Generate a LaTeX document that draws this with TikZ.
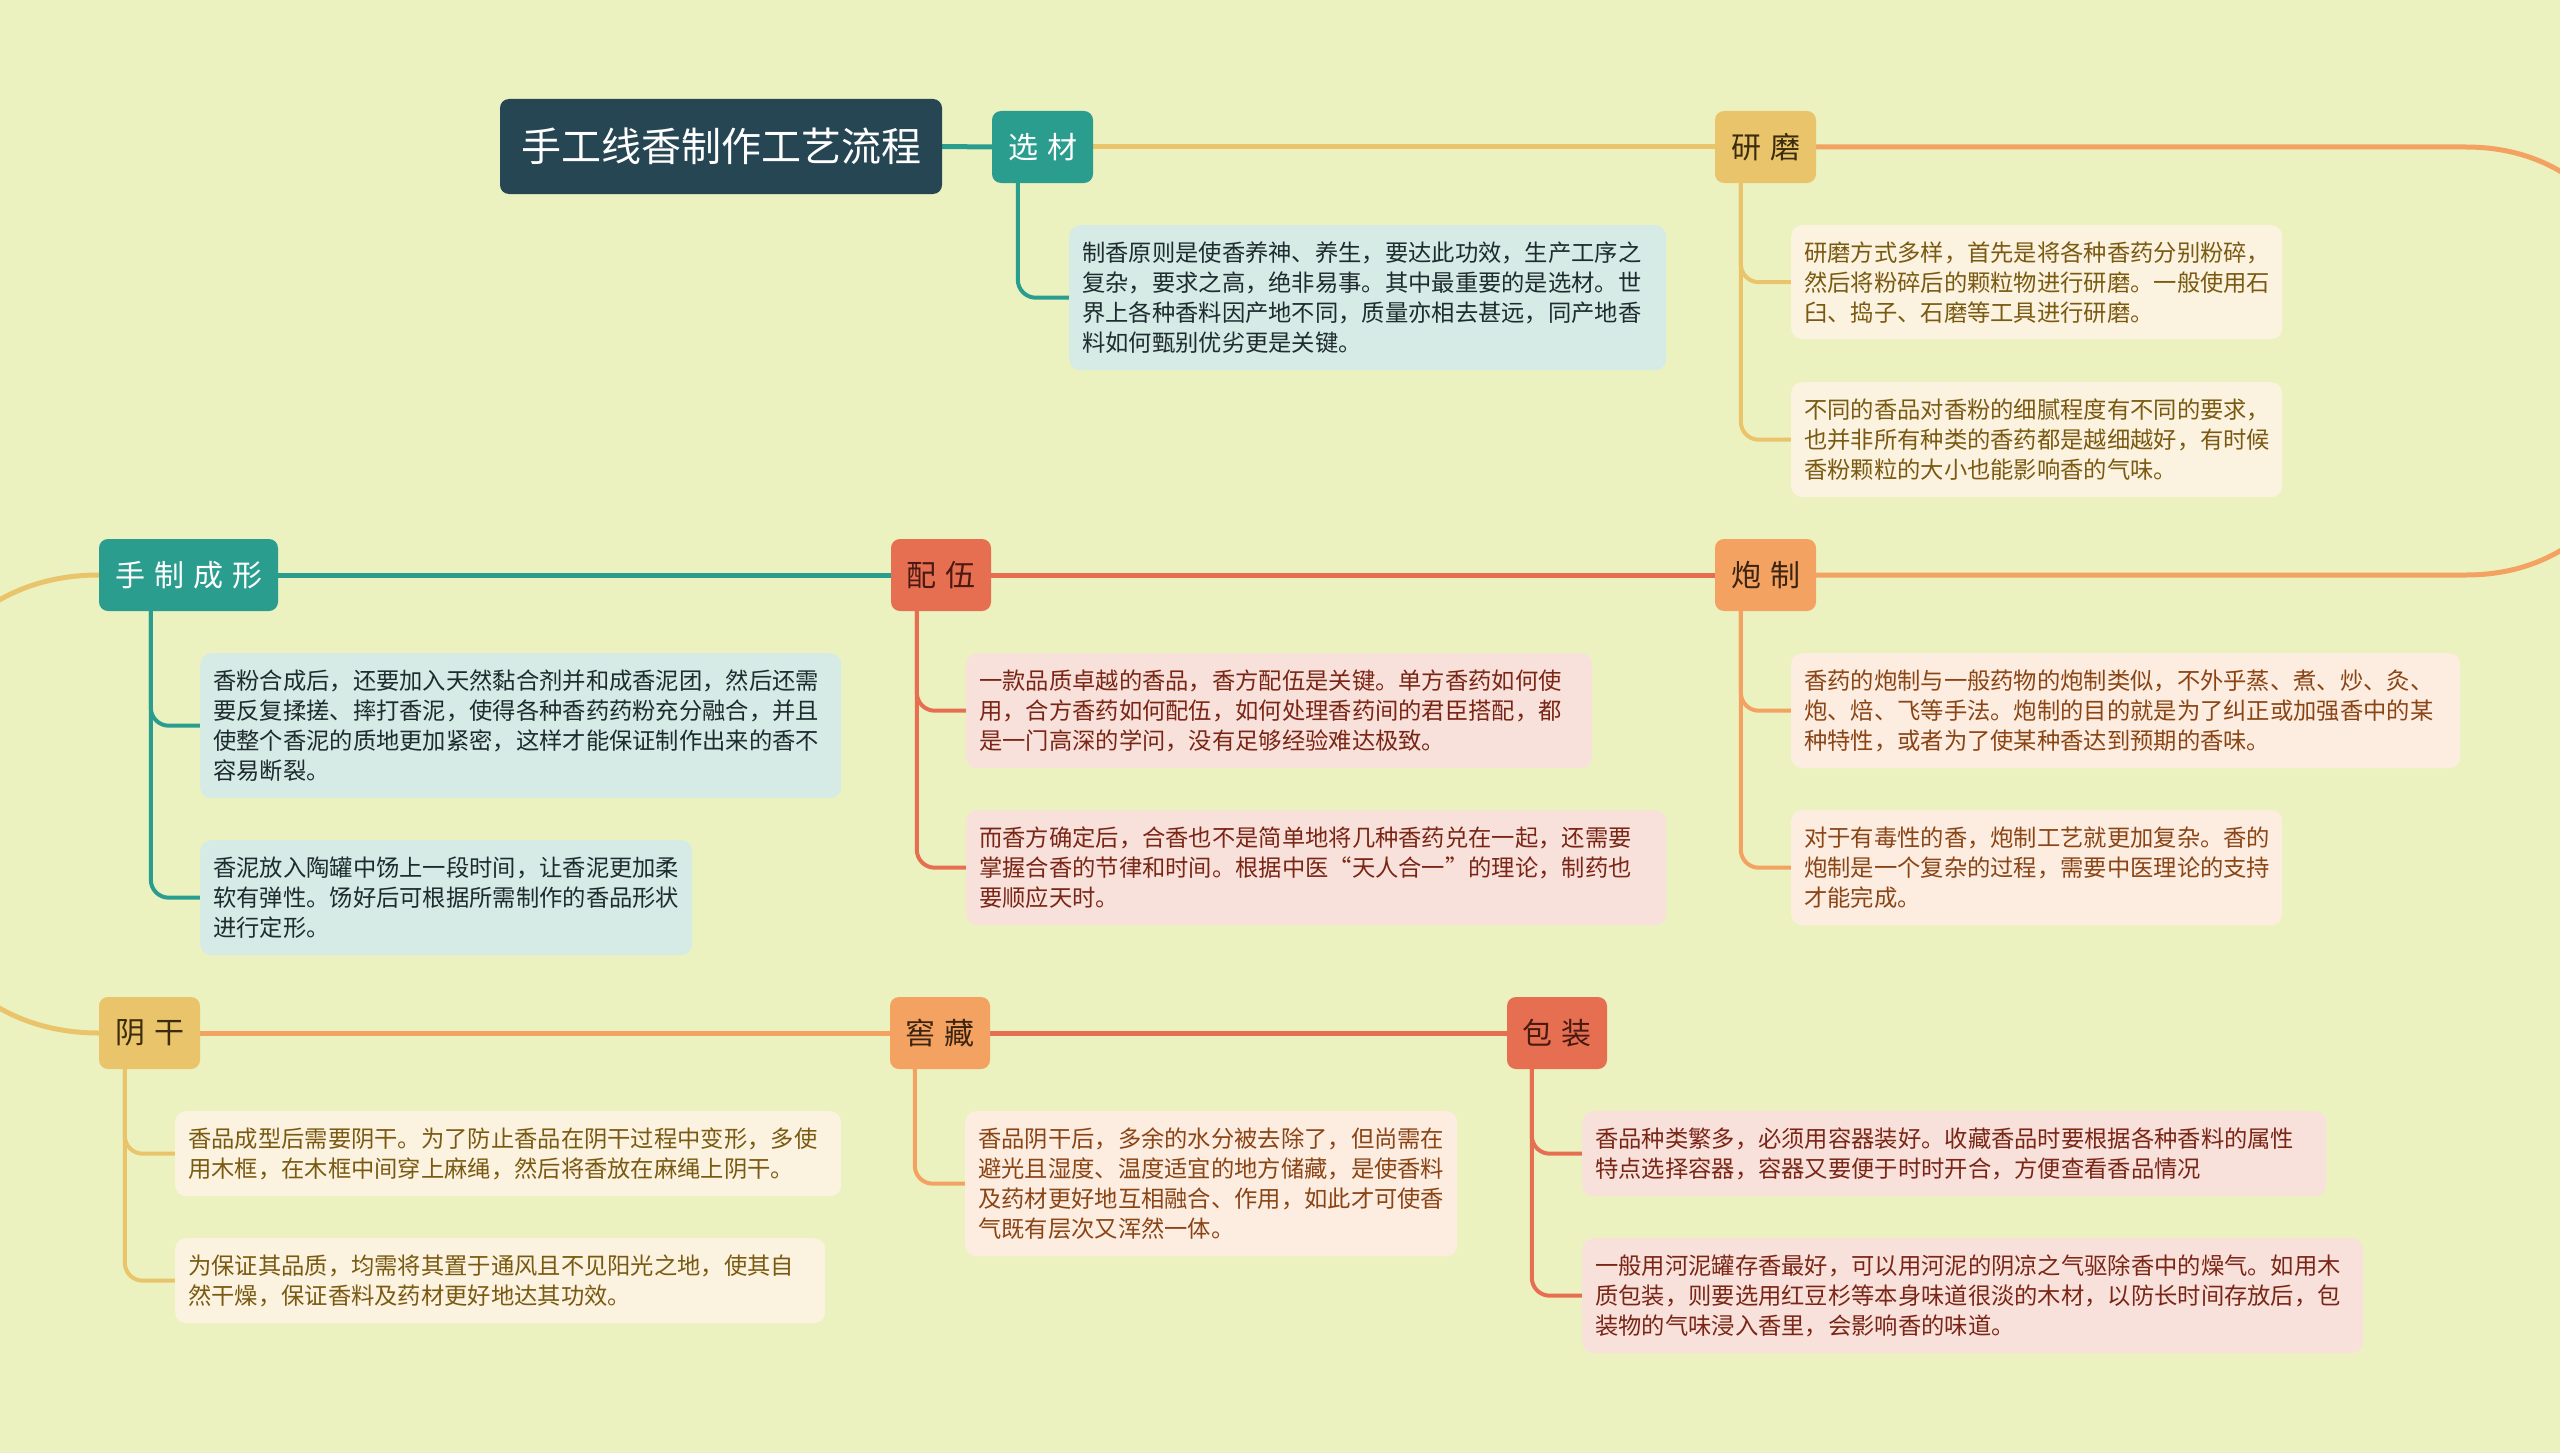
\documentclass[tikz,border=0pt]{standalone}
\usepackage{fontspec}
\setmainfont{Noto Sans CJK SC}
\usetikzlibrary{calc}
\definecolor{bgc}{HTML}{EBF2C0}
\definecolor{cDark}{HTML}{264653}
\definecolor{cTeal}{HTML}{2A9D8F}
\definecolor{cYel}{HTML}{E9C46A}
\definecolor{cOra}{HTML}{F4A261}
\definecolor{cRed}{HTML}{E76F51}
\definecolor{fTeal}{HTML}{D6EBE5}
\definecolor{fYel}{HTML}{FBF3E0}
\definecolor{fOra}{HTML}{FDEDE0}
\definecolor{fRed}{HTML}{F9E1DB}
\definecolor{tTeal}{HTML}{1E2B2F}
\definecolor{tYel}{HTML}{7A5A12}
\definecolor{tOra}{HTML}{8A4516}
\definecolor{tRed}{HTML}{7A2616}
\definecolor{mYel}{HTML}{3A2C0C}
\definecolor{mOra}{HTML}{3D2410}
\definecolor{mRed}{HTML}{4A1A12}
\newcommand\kgap{\hspace{9pt}}
\pgfdeclarelayer{back}
\pgfdeclarelayer{lines}
\pgfsetlayers{back,lines,main}
\begin{document}
\begin{tikzpicture}[x=1pt,y=-1pt,
  mainnode/.style={rounded corners=9pt, minimum width=101pt, minimum height=72pt, inner sep=0pt, font=\fontsize{30}{36}\selectfont},
  leaf/.style={anchor=north west, rounded corners=11pt, align=left, inner xsep=13pt, inner ysep=0pt, font=\fontsize{23.3}{30}\selectfont},
  mainline/.style={line width=5pt},
  subline/.style={line width=4pt, rounded corners=18pt}]
\useasboundingbox (0,0) rectangle (2560,1453);
\begin{pgfonlayer}{back}
\fill[bgc] (0,0) rectangle (2560,1453);
\end{pgfonlayer}

% main nodes
\node[mainnode, fill=cDark, text=white, minimum width=442pt, minimum height=95pt, font=\fontsize{40}{48}\selectfont] (title) at (721,146.5) {手工线香制作工艺流程};
\node[mainnode, fill=cTeal, text=white] (xuancai) at (1042.5,147) {选\kgap 材};
\node[mainnode, fill=cYel, text=mYel] (yanmo) at (1765.5,147) {研\kgap 磨};
\node[mainnode, fill=cOra, text=mOra] (paozhi) at (1765.5,575) {炮\kgap 制};
\node[mainnode, fill=cRed, text=mRed, minimum width=100pt] (peiwu) at (941,575) {配\kgap 伍};
\node[mainnode, fill=cTeal, text=white, minimum width=179pt] (shouzhi) at (188.5,575) {手\kgap 制\kgap 成\kgap 形};
\node[mainnode, fill=cYel, text=mYel] (yingan) at (149.5,1033) {阴\kgap 干};
\node[mainnode, fill=cOra, text=mOra, minimum width=100pt] (jiaocang) at (940,1033) {窖\kgap 藏};
\node[mainnode, fill=cRed, text=mRed, minimum width=100pt] (baozhuang) at (1557,1033) {包\kgap 装};

% leaf nodes
\node[leaf, fill=fTeal, text=tTeal, text width=571pt, minimum height=145pt] (xc1) at (1069,225) {制香原则是使香养神、养生，要达此功效，生产工序之\\复杂，要求之高，绝非易事。其中最重要的是选材。世\\界上各种香料因产地不同，质量亦相去甚远，同产地香\\料如何甄别优劣更是关键。};
\node[leaf, fill=fYel, text=tYel, text width=465pt, minimum height=114pt] (ym1) at (1791,225) {研磨方式多样，首先是将各种香药分别粉碎，\\然后将粉碎后的颗粒物进行研磨。一般使用石\\臼、捣子、石磨等工具进行研磨。};
\node[leaf, fill=fYel, text=tYel, text width=465pt, minimum height=115pt] (ym2) at (1791,382) {不同的香品对香粉的细腻程度有不同的要求，\\也并非所有种类的香药都是越细越好，有时候\\香粉颗粒的大小也能影响香的气味。};
\node[leaf, fill=fOra, text=tOra, text width=643pt, minimum height=115pt] (pz1) at (1791,653) {香药的炮制与一般药物的炮制类似，不外乎蒸、煮、炒、灸、\\炮、焙、飞等手法。炮制的目的就是为了纠正或加强香中的某\\种特性，或者为了使某种香达到预期的香味。};
\node[leaf, fill=fOra, text=tOra, text width=465pt, minimum height=115pt] (pz2) at (1791,810) {对于有毒性的香，炮制工艺就更加复杂。香的\\炮制是一个复杂的过程，需要中医理论的支持\\才能完成。};
\node[leaf, fill=fRed, text=tRed, text width=600pt, minimum height=115pt] (pw1) at (966,653) {一款品质卓越的香品，香方配伍是关键。单方香药如何使\\用，合方香药如何配伍，如何处理香药间的君臣搭配，都\\是一门高深的学问，没有足够经验难达极致。};
\node[leaf, fill=fRed, text=tRed, text width=674pt, minimum height=115pt] (pw2) at (966,810) {而香方确定后，合香也不是简单地将几种香药兑在一起，还需要\\掌握合香的节律和时间。根据中医“天人合一”的理论，制药也\\要顺应天时。};
\node[leaf, fill=fTeal, text=tTeal, text width=615pt, minimum height=145pt] (sz1) at (200,653) {香粉合成后，还要加入天然黏合剂并和成香泥团，然后还需\\要反复揉搓、摔打香泥，使得各种香药药粉充分融合，并且\\使整个香泥的质地更加紧密，这样才能保证制作出来的香不\\容易断裂。};
\node[leaf, fill=fTeal, text=tTeal, text width=466pt, minimum height=115pt] (sz2) at (200,840) {香泥放入陶罐中饧上一段时间，让香泥更加柔\\软有弹性。饧好后可根据所需制作的香品形状\\进行定形。};
\node[leaf, fill=fYel, text=tYel, text width=640pt, minimum height=85pt] (yg1) at (175,1111) {香品成型后需要阴干。为了防止香品在阴干过程中变形，多使\\用木框，在木框中间穿上麻绳，然后将香放在麻绳上阴干。};
\node[leaf, fill=fYel, text=tYel, text width=624pt, minimum height=85pt] (yg2) at (175,1238) {为保证其品质，均需将其置于通风且不见阳光之地，使其自\\然干燥，保证香料及药材更好地达其功效。};
\node[leaf, fill=fOra, text=tOra, text width=466pt, minimum height=145pt] (jc1) at (965,1111) {香品阴干后，多余的水分被去除了，但尚需在\\避光且湿度、温度适宜的地方储藏，是使香料\\及药材更好地互相融合、作用，如此才可使香\\气既有层次又浑然一体。};
\node[leaf, fill=fRed, text=tRed, text width=718pt, minimum height=85pt] (bz1) at (1582,1111) {香品种类繁多，必须用容器装好。收藏香品时要根据各种香料的属性\\特点选择容器，容器又要便于时时开合，方便查看香品情况};
\node[leaf, fill=fRed, text=tRed, text width=755pt, minimum height=115pt] (bz2) at (1582,1238) {一般用河泥罐存香最好，可以用河泥的阴凉之气驱除香中的燥气。如用木\\质包装，则要选用红豆杉等本身味道很淡的木材，以防长时间存放后，包\\装物的气味浸入香里，会影响香的味道。};

\begin{pgfonlayer}{lines}
% main flow
\draw[mainline, cTeal] (title.east) -- (xuancai.west);
\draw[mainline, cYel] (xuancai.east) -- (yanmo.west);
\draw[mainline, cOra] (yanmo.east) -- (2466,147) .. controls (2720,147) and (2720,575) .. (2466,575) -- (paozhi.east);
\draw[mainline, cRed] (paozhi.west) -- (peiwu.east);
\draw[mainline, cTeal] (peiwu.west) -- (shouzhi.east);
\draw[mainline, cYel] (shouzhi.west) .. controls (-174,575) and (-174,1033) .. (yingan.west);
\draw[mainline, cOra] (yingan.east) -- (jiaocang.west);
\draw[mainline, cRed] (jiaocang.east) -- (baozhuang.west);
% children
\draw[subline, cTeal] (xuancai.south west) ++(26,-4) |- (xc1.west);
\draw[subline, cYel] (yanmo.south west) ++(26,-4) |- (ym1.west);
\draw[subline, cYel] (yanmo.south west) ++(26,-4) |- (ym2.west);
\draw[subline, cOra] (paozhi.south west) ++(26,-4) |- (pz1.west);
\draw[subline, cOra] (paozhi.south west) ++(26,-4) |- (pz2.west);
\draw[subline, cRed] (peiwu.south west) ++(26,-4) |- (pw1.west);
\draw[subline, cRed] (peiwu.south west) ++(26,-4) |- (pw2.west);
\draw[subline, cTeal] (shouzhi.south west) ++(52,-4) |- (sz1.west);
\draw[subline, cTeal] (shouzhi.south west) ++(52,-4) |- (sz2.west);
\draw[subline, cYel] (yingan.south west) ++(26,-4) |- (yg1.west);
\draw[subline, cYel] (yingan.south west) ++(26,-4) |- (yg2.west);
\draw[subline, cOra] (jiaocang.south west) ++(25,-4) |- (jc1.west);
\draw[subline, cRed] (baozhuang.south west) ++(25,-4) |- (bz1.west);
\draw[subline, cRed] (baozhuang.south west) ++(25,-4) |- (bz2.west);
\end{pgfonlayer}
\end{tikzpicture}
\end{document}
